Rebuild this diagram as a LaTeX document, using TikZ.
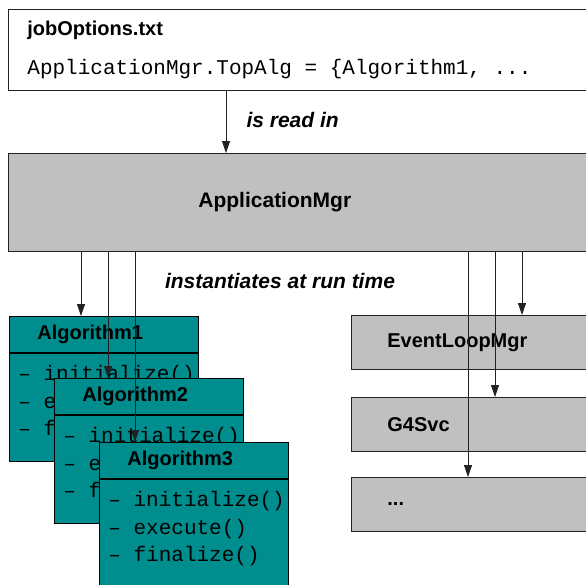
\documentclass[tikz,border=0pt]{standalone}
\usepackage{fontspec}
\setmainfont{Liberation Sans}
\setmonofont{Liberation Mono}
\usetikzlibrary{arrows.meta, positioning}
\definecolor{mgraybox}{HTML}{C0C0C0}
\definecolor{mteal}{HTML}{008D8D}
\definecolor{mline}{HTML}{222222}
\newcommand{\bigsf}{\fontsize{20}{24}\selectfont\bfseries}
\newcommand{\bigtt}{\fontsize{21}{27.5}\selectfont\mdseries\ttfamily\spaceskip=0.6em\relax}
\newcommand{\algline}[1]{\bigtt\mbox{– #1}}
\tikzset{
  filebox/.style={draw=mline, fill=white, line width=0.8pt, anchor=north west,
                  minimum height=81pt, text width=540pt, inner xsep=19pt, align=left},
  mgrbox/.style={draw=mline, fill=mgraybox, line width=0.8pt, anchor=north west,
                 minimum height=98pt, text width=198pt, inner xsep=190pt, align=left,
                 font=\fontsize{21}{25}\selectfont\bfseries},
  svcbox/.style={draw=mline, fill=mgraybox, line width=0.8pt, anchor=north west,
                 minimum height=54pt, text width=180pt, inner xsep=36pt, align=left,
                 font=\bigsf},
  alghead/.style={draw=black, fill=mteal, line width=0.8pt, anchor=north west,
                  minimum height=36pt, text width=133pt, inner xsep=28pt, inner ysep=0pt,
                  align=left, font=\bigsf},
  algbody/.style={draw=black, fill=mteal, line width=0.8pt, anchor=north west,
                  minimum height=108pt, text width=171pt, inner xsep=9pt, inner ysep=0pt,
                  text depth=68pt, align=left, font=\bigtt},
  lbl/.style={font=\fontsize{21}{25}\selectfont\bfseries\itshape},
  arr/.style={-{Triangle[length=12pt,width=8pt]}, line width=0.8pt, mline},
}

\begin{document}
\begin{tikzpicture}[x=1pt, y=-1pt]
  \clip (0,0) rectangle (586,584);
  \fill[white] (0,0) rectangle (586,584);

  % options file and manager
  \node[filebox] (jobopt) at (8,9)
    {\bigsf jobOptions.txt\\[18pt]\bigtt ApplicationMgr.TopAlg = \{Algorithm1, ...};
  \node[mgrbox] (appmgr) at (8,153) {ApplicationMgr};
  \draw[arr] ([xshift=218pt]jobopt.south west) -- ([xshift=218pt]appmgr.north west);
  \node[lbl, anchor=west] (readlbl) at (243,120) {is read in};
  \node[lbl] (instlbl) at (280,281) {instantiates at run time};

  % algorithms, stacked
  \foreach \i/\x/\y in {1/9/316, 2/54/378, 3/99/442}{
    \node[alghead] (alg\i h) at (\x,\y) {Algorithm\i};
    \node[algbody] (alg\i b) at (alg\i h.south west)
      {\algline{initialize()}\\\algline{execute()}\\\algline{finalize()}};
  }
  \foreach \i in {1,2,3}{
    \coordinate (in\i) at ([xshift={90-18*\i}]alg\i h.north west);
    \draw[arr] (appmgr.south -| in\i) -- (in\i);
  }

  % services
  \node[svcbox] (evtmgr) at (351,315) {EventLoopMgr};
  \node[svcbox] (g4svc)  at (351,397) {G4Svc};
  \node[svcbox] (more)   at (351,477) {...};
  \foreach \s/\d in {evtmgr/171, g4svc/144, more/117}{
    \coordinate (sin\s) at ([xshift=\d]\s.north west);
    \draw[arr] (appmgr.south -| sin\s) -- (sin\s);
  }
\end{tikzpicture}
\end{document}
